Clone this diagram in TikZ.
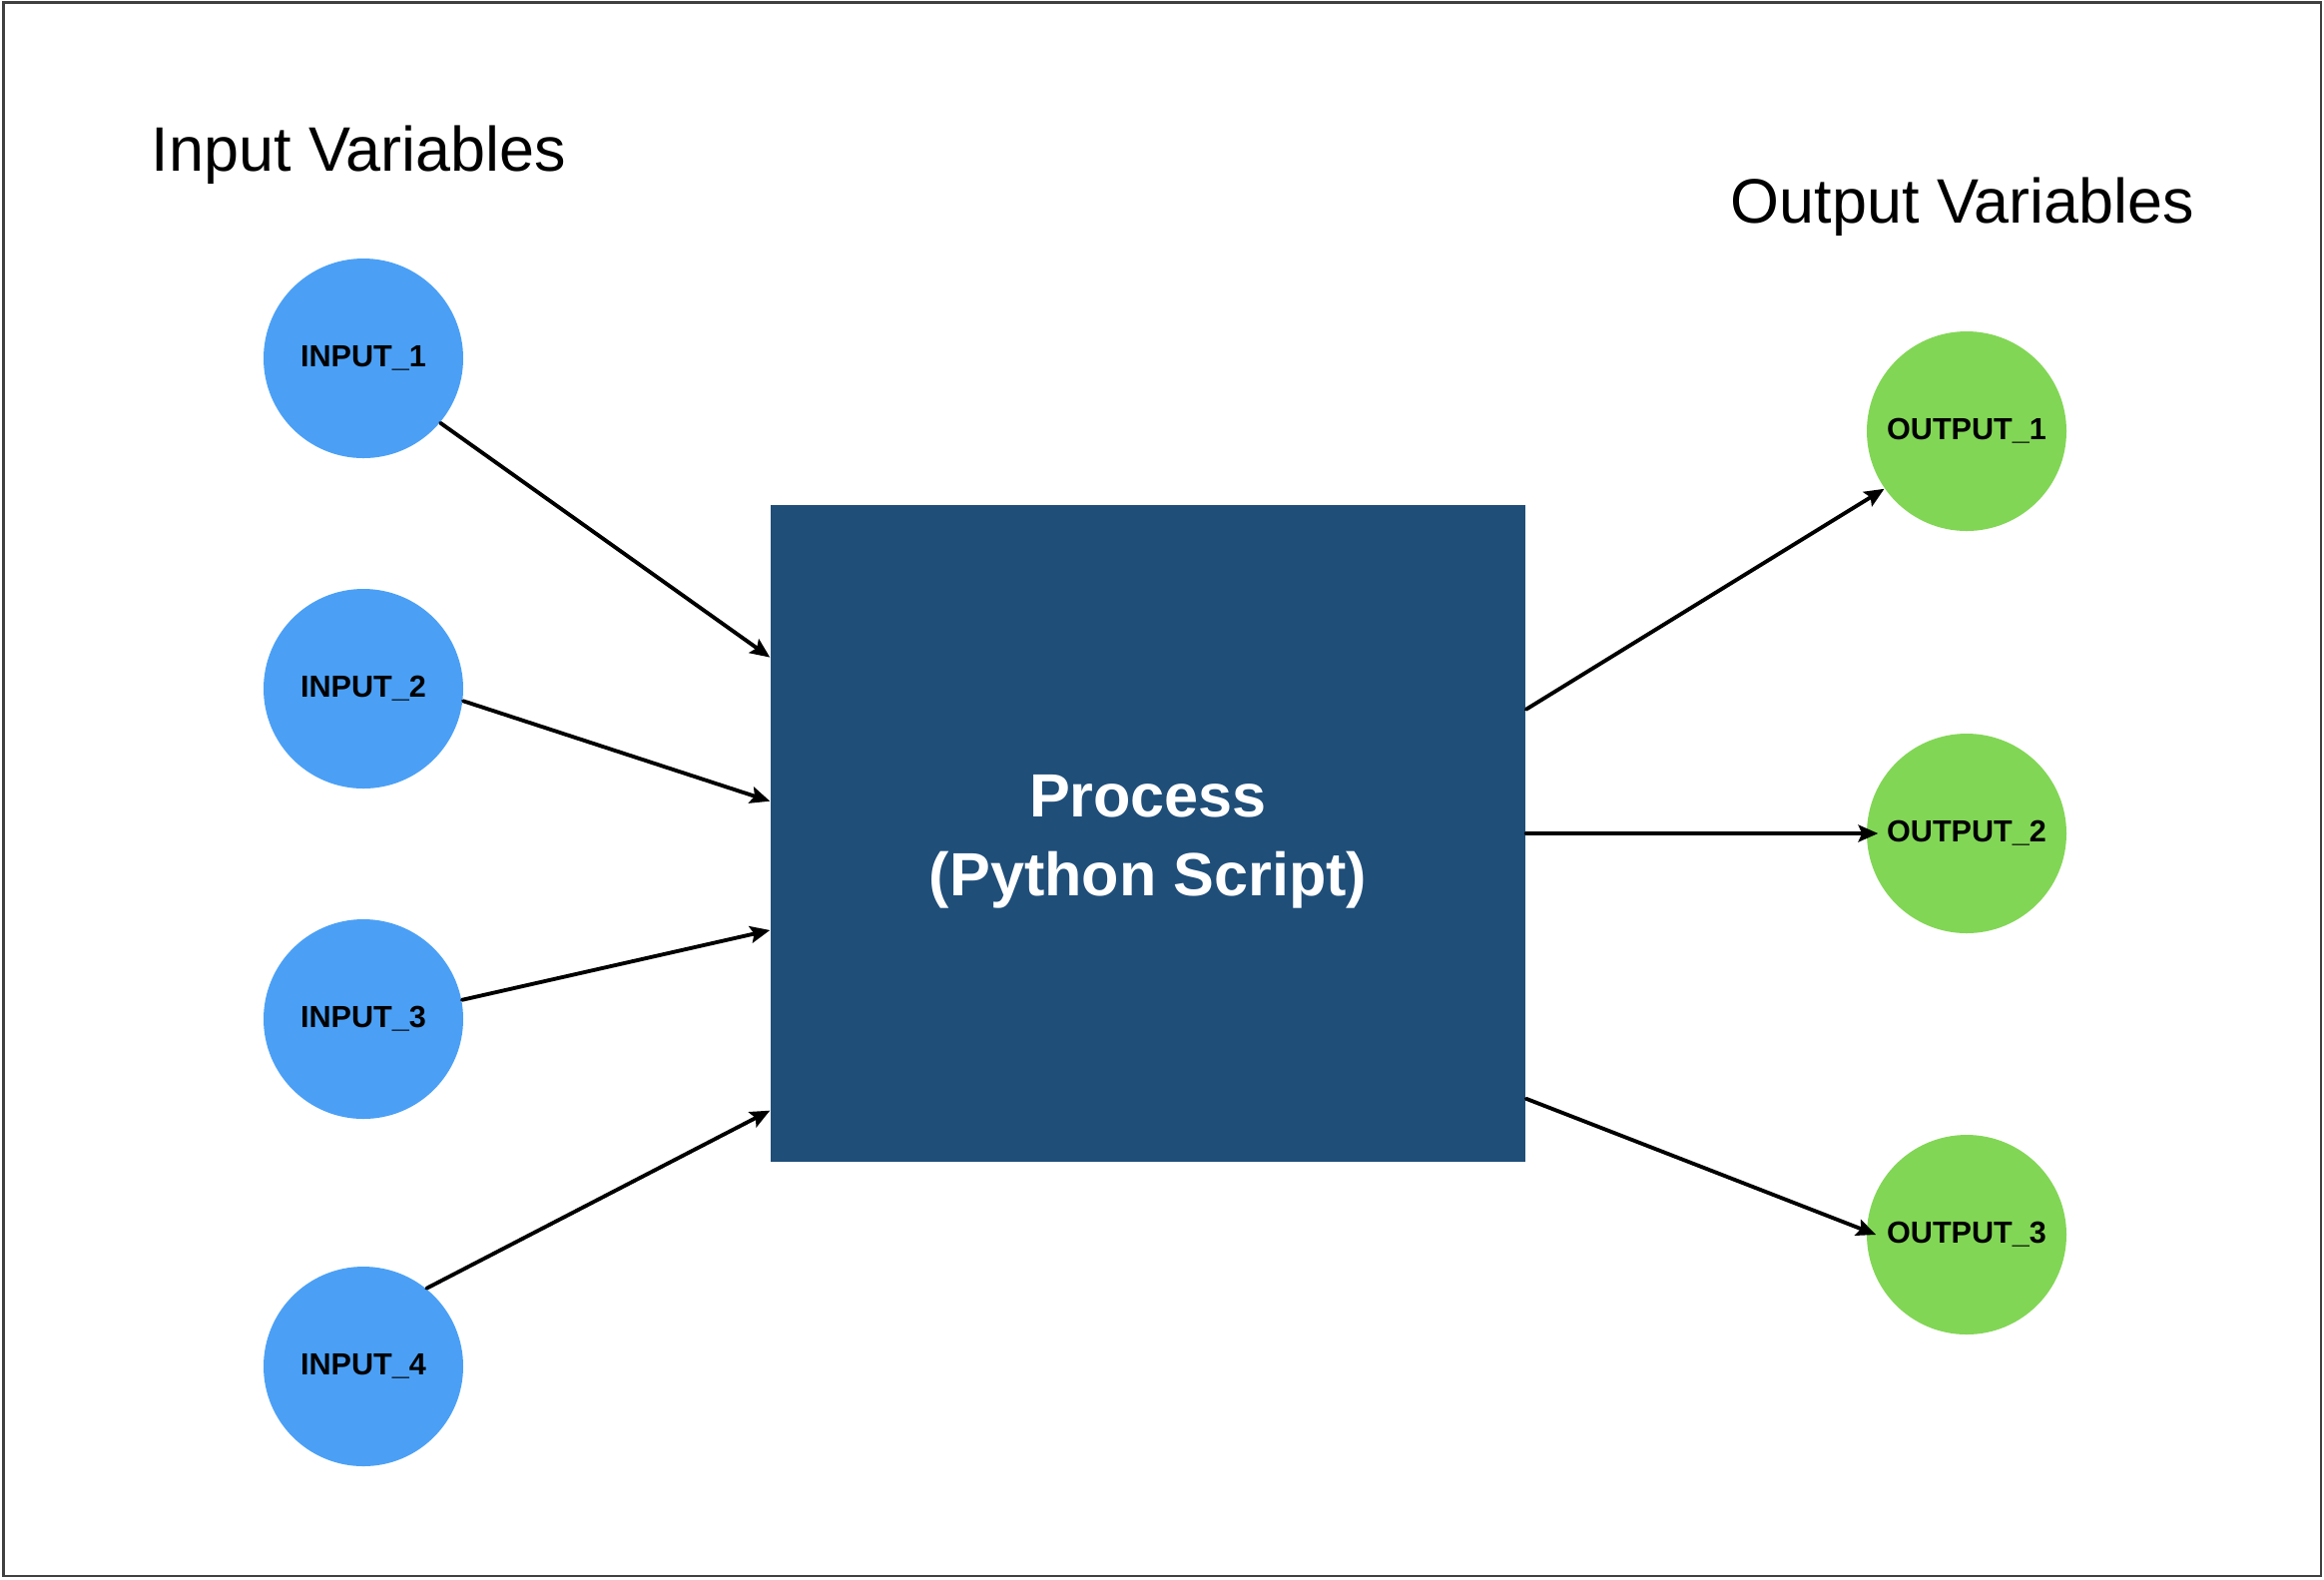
\documentclass[tikz,border=0pt]{standalone}
\usepackage{fontspec}
\setmainfont{Liberation Sans}
\usetikzlibrary{calc}
\usetikzlibrary{arrows.meta}
\definecolor{inblue}{RGB}{75,160,245}
\definecolor{outgreen}{RGB}{130,214,86}
\definecolor{procblue}{RGB}{31,78,121}
\definecolor{framegray}{RGB}{64,64,64}

\begin{document}
\begin{tikzpicture}[x=0.1mm, y=-0.1mm, line cap = round, line join = round, >={Stealth[length=5.6pt, width=4.8pt, inset=1pt]}]
\tikzstyle{invar}=[fill=inblue, circle, minimum size=2cm, inner sep=0pt, font=\fontsize{8.7}{10}\selectfont\bfseries]
\tikzstyle{outvar}=[fill=outgreen, circle, minimum size=2cm, inner sep=0pt, font=\fontsize{8.7}{10}\selectfont\bfseries]
\tikzstyle{title}=[anchor=west, inner sep=0pt, font=\fontsize{17.9}{21}\selectfont]
\tikzstyle{procbox}=[fill=procblue, minimum width=7.56cm, minimum height=6.58cm, inner sep=0pt, text=white, align=center, font=\fontsize{17.4}{22.4}\selectfont\bfseries]
\useasboundingbox (0,0) rectangle (2328,1582);
\draw[framegray, line width=0.6pt, line cap=butt, line join=miter] (3.5,2.5) rectangle (2325,1579);
\node[title] (intitle) at (151,155) {Input Variables};
\node[title] (outtitle) at (1733,207) {Output Variables};
\node[invar] (in1) at (364,359) {INPUT\_1};
\node[invar] (in2) at (364,690) {INPUT\_2};
\node[invar] (in3) at (364,1021) {INPUT\_3};
\node[invar] (in4) at (364,1369) {INPUT\_4};
\node[procbox] (proc) at (1150,835) {\rule{0pt}{16.6pt}Process\\(Python Script)};
\node[outvar] (out1) at (1970,432) {OUTPUT\_1};
\node[outvar] (out2) at (1970,835) {OUTPUT\_2};
\node[outvar] (out3) at (1970,1237) {OUTPUT\_3};

\draw[line width=1.1pt,->,color=black] (in1.-40) -- ($(proc.north west)!0.2325!(proc.south west)$);
\draw[line width=1.1pt,->,color=black] (in2.-7) -- ($(proc.north west)!0.451!(proc.south west)$);
\draw[line width=1.1pt,->,color=black] (in3.11) -- ($(proc.north west)!0.647!(proc.south west)$);
\draw[line width=1.1pt,->,color=black] (in4.51) -- ($(proc.north west)!0.921!(proc.south west)$);
\draw[line width=1.1pt,->,color=black] ($(proc.north east)!0.3115!(proc.south east)$) -- (out1.215);
\draw[line width=1.1pt,->,color=black] (proc.east) -- ($(out2.west)+(12,0)$);
\draw[line width=1.1pt,->,color=black] ($(proc.north east)!0.903!(proc.south east)$) -- ($(out3.west)+(10,0)$);
\end{tikzpicture}
\end{document}
